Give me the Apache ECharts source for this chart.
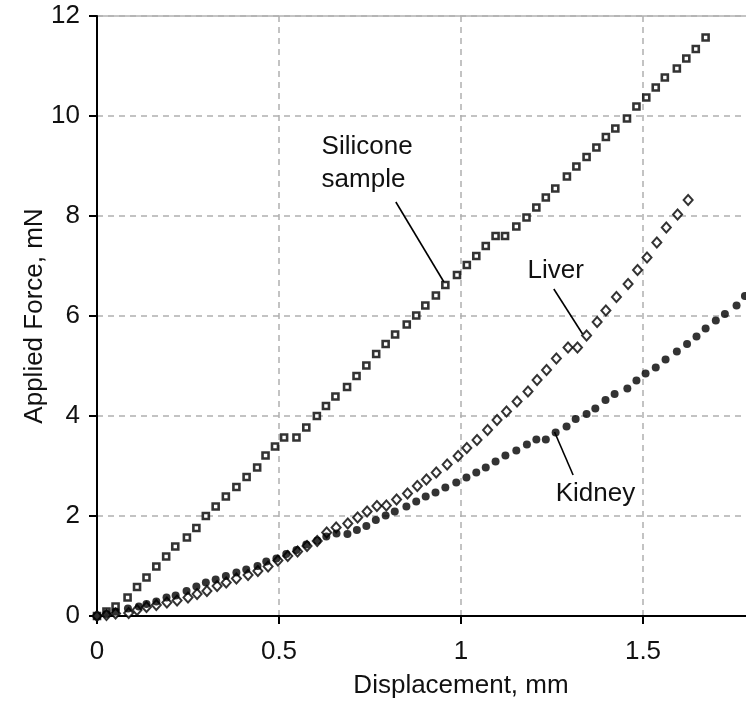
<!DOCTYPE html>
<html><head><meta charset="utf-8">
<script src="https://cdn.jsdelivr.net/npm/echarts@6/dist/echarts.min.js"></script>
<style>html,body{margin:0;padding:0;background:#fff}#c{width:746px;height:707px}</style>
</head><body><div id="c"></div>
<script>
// Displacement (mm), Applied force (mN)
const siliconeData = [[0,0],[0.026,0.09],[0.051,0.19],[0.084,0.37],[0.110,0.58],[0.136,0.77],[0.163,0.99],[0.190,1.19],[0.215,1.39],[0.247,1.57],[0.273,1.76],[0.299,2.00],[0.326,2.19],[0.354,2.39],[0.383,2.58],[0.411,2.78],[0.440,2.97],[0.463,3.21],[0.489,3.39],[0.514,3.57],[0.548,3.57],[0.575,3.77],[0.604,4.00],[0.629,4.20],[0.655,4.39],[0.687,4.58],[0.713,4.80],[0.740,5.01],[0.767,5.24],[0.793,5.44],[0.819,5.63],[0.851,5.83],[0.877,6.01],[0.902,6.21],[0.931,6.41],[0.957,6.62],[0.989,6.82],[1.016,7.02],[1.042,7.20],[1.068,7.40],[1.095,7.60],[1.121,7.60],[1.152,7.79],[1.180,7.97],[1.207,8.17],[1.233,8.37],[1.259,8.55],[1.291,8.79],[1.317,8.99],[1.345,9.18],[1.372,9.37],[1.398,9.58],[1.424,9.75],[1.456,9.95],[1.482,10.19],[1.509,10.37],[1.535,10.57],[1.560,10.77],[1.593,10.95],[1.619,11.15],[1.645,11.34],[1.672,11.57]];
const liverData = [[0,0],[0.026,0.02],[0.051,0.05],[0.087,0.06],[0.110,0.12],[0.136,0.18],[0.163,0.22],[0.192,0.27],[0.220,0.31],[0.250,0.37],[0.275,0.44],[0.302,0.50],[0.330,0.60],[0.355,0.67],[0.383,0.75],[0.415,0.82],[0.442,0.90],[0.470,0.99],[0.497,1.11],[0.524,1.20],[0.551,1.29],[0.577,1.40],[0.605,1.50],[0.631,1.67],[0.657,1.77],[0.689,1.85],[0.716,1.97],[0.742,2.09],[0.769,2.20],[0.795,2.21],[0.823,2.33],[0.853,2.45],[0.880,2.60],[0.905,2.73],[0.932,2.87],[0.962,3.03],[0.992,3.20],[1.016,3.36],[1.044,3.52],[1.073,3.72],[1.099,3.92],[1.125,4.09],[1.154,4.29],[1.184,4.49],[1.209,4.72],[1.235,4.92],[1.262,5.15],[1.294,5.37],[1.320,5.37],[1.345,5.61],[1.374,5.88],[1.398,6.11],[1.427,6.38],[1.459,6.64],[1.485,6.92],[1.511,7.17],[1.538,7.47],[1.564,7.77],[1.595,8.03],[1.624,8.32]];
const kidneyData = [[0,0],[0.026,0.04],[0.051,0.09],[0.085,0.15],[0.115,0.19],[0.136,0.24],[0.163,0.29],[0.191,0.37],[0.216,0.41],[0.246,0.50],[0.273,0.59],[0.299,0.67],[0.326,0.73],[0.354,0.80],[0.383,0.87],[0.410,0.93],[0.441,1.00],[0.465,1.09],[0.493,1.15],[0.520,1.24],[0.548,1.32],[0.575,1.43],[0.605,1.51],[0.630,1.59],[0.658,1.65],[0.688,1.64],[0.714,1.72],[0.740,1.80],[0.766,1.92],[0.793,2.01],[0.818,2.09],[0.850,2.19],[0.877,2.29],[0.903,2.39],[0.930,2.47],[0.957,2.57],[0.987,2.67],[1.015,2.77],[1.042,2.87],[1.068,2.97],[1.095,3.09],[1.122,3.21],[1.152,3.31],[1.181,3.43],[1.207,3.53],[1.233,3.53],[1.260,3.67],[1.290,3.79],[1.315,3.94],[1.345,4.04],[1.369,4.15],[1.397,4.32],[1.422,4.44],[1.457,4.55],[1.482,4.71],[1.507,4.85],[1.535,4.97],[1.562,5.13],[1.593,5.29],[1.621,5.44],[1.647,5.59],[1.672,5.75],[1.700,5.91],[1.725,6.04],[1.757,6.21],[1.780,6.40]];
const xAxisTitle = 'Displacement, mm';
const yAxisTitle = 'Applied Force, mN';
// annotation text anchors (data units) and leader lines
const labelTexts = ['Silicone', 'sample', 'Liver', 'Kidney'];
const labelAnchors = [[0.617, 9.38], [0.617, 8.72], [1.183, 6.90], [1.260, 2.44]];
const siliconeLeader = [[0.821, 8.28], [0.953, 6.68]];
const liverLeader = [[1.255, 6.54], [1.334, 5.64]];
const kidneyLeader = [[1.257, 3.68], [1.308, 2.82]];

const FONT = "'Liberation Sans', Arial, Helvetica, sans-serif";
const INK = '#000';
const chart = echarts.init(document.getElementById('c'), null, {renderer: 'canvas'});

const splitStyle = {show: true, lineStyle: {color: '#b0b0b0', width: 1.5, type: [6, 5]}};
const axisCommon = {
  type: 'value',
  axisLine: {show: true, onZero: false, lineStyle: {color: INK, width: 2}},
  axisTick: {show: true, inside: false, length: 8, lineStyle: {color: INK, width: 2}},
  splitLine: splitStyle,
  nameTextStyle: {fontFamily: FONT, fontSize: 26, color: '#111'},
  axisLabel: {fontFamily: FONT, fontSize: 26, color: '#111'}
};
function leaderSeries(pts) {
  return {type: 'line', data: pts, symbol: 'none', silent: true, z: 1,
    lineStyle: {color: INK, width: 1.6}, animation: false};
}
chart.setOption({
  animation: false,
  backgroundColor: '#fff',
  grid: {left: 97, top: 16, width: 728, height: 600, outerBoundsMode: 'none', containLabel: false,
    show: true, borderColor: '#8a8a8a', borderWidth: 1, backgroundColor: 'transparent'},
  xAxis: Object.assign({}, axisCommon, {
    min: 0, max: 2, interval: 0.5,
    name: xAxisTitle, nameLocation: 'middle', nameGap: 57,
    axisLabel: Object.assign({}, axisCommon.axisLabel, {margin: 23, formatter: v => String(v)})
  }),
  yAxis: Object.assign({}, axisCommon, {
    min: 0, max: 12, interval: 2,
    name: yAxisTitle, nameLocation: 'middle', nameGap: 49, nameRotate: 90, nameMoveOverlap: false,
    axisLabel: Object.assign({}, axisCommon.axisLabel, {margin: 17})
  }),
  series: [
    leaderSeries(siliconeLeader), leaderSeries(liverLeader), leaderSeries(kidneyLeader),
    {name: 'Silicone sample', type: 'scatter', data: siliconeData, symbol: 'rect', symbolSize: 6, z: 3,
      itemStyle: {color: '#fff', borderColor: INK, borderWidth: 2.6}},
    {name: 'Liver', type: 'scatter', data: liverData, symbol: 'diamond', symbolSize: [9, 10], z: 3,
      itemStyle: {color: '#fff', borderColor: INK, borderWidth: 2}},
    {name: 'Kidney', type: 'scatter', data: kidneyData, symbol: 'circle', symbolSize: 8, z: 4,
      itemStyle: {color: INK}}
  ]
});

const texts = labelTexts.map((t, i) => {
  const p = chart.convertToPixel({gridIndex: 0}, labelAnchors[i]);
  return {type: 'text', x: p[0], y: p[1], z: 10, silent: true,
    style: {text: t, fill: '#111', font: '26px ' + FONT, textAlign: 'left', textVerticalAlign: 'middle', align: 'left', verticalAlign: 'middle'}};
});
chart.setOption({graphic: {elements: texts}});
</script>
</body></html>
